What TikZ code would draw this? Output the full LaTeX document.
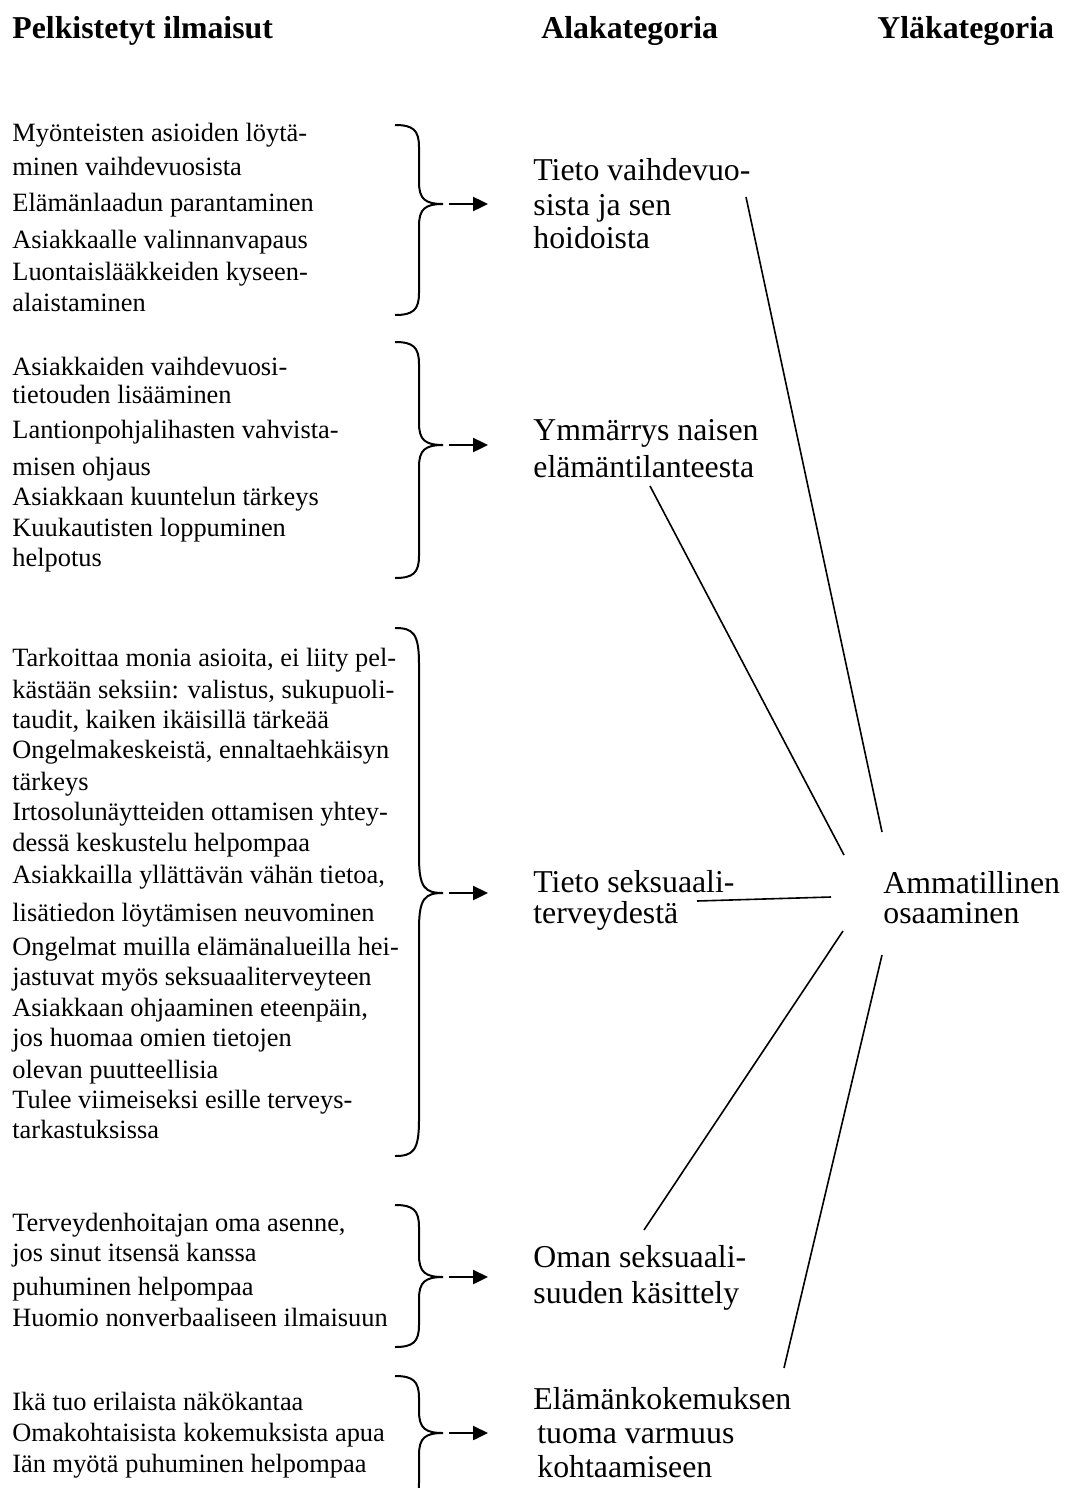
\documentclass[tikz,border=0pt]{standalone}
\usepackage{fontspec}
\setmainfont{Liberation Serif}
\usetikzlibrary{arrows.meta}
\newcommand\mybrace[4]{% top, tip, bottom, hook
  \draw[bracestyle] (395,#1) .. controls (413,#1) and (419,#1+5) .. (419,#1+#4)
    -- (419,#2-#4) .. controls (419,#2-5) and (425,#2) .. (443,#2)
    .. controls (425,#2) and (419,#2+5) .. (419,#2+#4)
    -- (419,#3-#4) .. controls (419,#3-5) and (413,#3) .. (395,#3);}
\begin{document}
\begin{tikzpicture}[x=0.5pt,y=-0.5pt,
  exp/.style={anchor=base west, inner sep=0pt, font=\fontsize{13.2}{15}\selectfont},
  cat/.style={anchor=base west, inner sep=0pt, font=\fontsize{15.9}{18}\selectfont},
  head/.style={anchor=base west, inner sep=0pt, font=\fontsize{15.9}{18}\selectfont\bfseries},
  bracestyle/.style={line width=1pt},
  arr/.style={line width=1.2pt, -{Triangle[length=7.5pt,width=7pt]}},
  conn/.style={line width=0.8pt}]
\useasboundingbox (0,0) rectangle (1066,1488);
\clip (0,0) rectangle (1066,1488);

% headings
\node[head] (h1) at (12,39) {Pelkistetyt ilmaisut};
\node[head] (h2) at (541,39) {Alakategoria};
\node[head] (h3) at (877,39) {Yläkategoria};

% block 1
\node[exp] (e11) at (12,141) {Myönteisten asioiden löytä-};
\node[exp] (e12) at (12,175) {minen vaihdevuosista};
\node[exp] (e13) at (12,211) {Elämänlaadun parantaminen};
\node[exp] (e14) at (12,248) {Asiakkaalle valinnanvapaus};
\node[exp] (e15) at (12,280) {Luontaislääkkeiden kyseen-};
\node[exp] (e16) at (12,311) {alaistaminen};

% block 2
\node[exp] (e21) at (12,375) {Asiakkaiden vaihdevuosi-};
\node[exp] (e22) at (12,403) {tietouden lisääminen};
\node[exp] (e23) at (12,438) {Lantionpohjalihasten vahvista-};
\node[exp] (e24) at (12,475) {misen ohjaus};
\node[exp] (e25) at (12,505) {Asiakkaan kuuntelun tärkeys};
\node[exp] (e26) at (12,536) {Kuukautisten loppuminen};
\node[exp] (e27) at (12,566) {helpotus};

% block 3
\node[exp] (e31) at (12,666) {Tarkoittaa monia asioita, ei liity pel-};
\node[exp] (e32) at (12,698) {kästään seksiin: valistus, sukupuoli-};
\node[exp] (e33) at (12,728) {taudit, kaiken ikäisillä tärkeää};
\node[exp] (e34) at (12,758) {Ongelmakeskeistä, ennaltaehkäisyn};
\node[exp] (e35) at (12,790) {tärkeys};
\node[exp] (e36) at (12,820) {Irtosolunäytteiden ottamisen yhtey-};
\node[exp] (e37) at (12,851) {dessä keskustelu helpompaa};
\node[exp] (e38) at (12,883) {Asiakkailla yllättävän vähän tietoa,};
\node[exp] (e39) at (12,921) {lisätiedon löytämisen neuvominen};
\node[exp] (e310) at (12,955) {Ongelmat muilla elämänalueilla hei-};
\node[exp] (e311) at (12,985) {jastuvat myös seksuaaliterveyteen};
\node[exp] (e312) at (12,1016) {Asiakkaan ohjaaminen eteenpäin,};
\node[exp] (e313) at (12,1046) {jos huomaa omien tietojen};
\node[exp] (e314) at (12,1078) {olevan puutteellisia};
\node[exp] (e315) at (12,1108) {Tulee viimeiseksi esille terveys-};
\node[exp] (e316) at (12,1138) {tarkastuksissa};

% block 4
\node[exp] (e41) at (12,1231) {Terveydenhoitajan oma asenne,};
\node[exp] (e42) at (12,1261) {jos sinut itsensä kanssa};
\node[exp] (e43) at (12,1295) {puhuminen helpompaa};
\node[exp] (e44) at (12,1326) {Huomio nonverbaaliseen ilmaisuun};

% block 5
\node[exp] (e51) at (12,1410) {Ikä tuo erilaista näkökantaa};
\node[exp] (e52) at (12,1441) {Omakohtaisista kokemuksista apua};
\node[exp] (e53) at (12,1472) {Iän myötä puhuminen helpompaa};

% braces
\mybrace{125}{204}{315}{22}
\mybrace{342}{445}{578}{22}
\mybrace{628}{893}{1156}{36}
\mybrace{1205}{1277}{1347}{22}
\mybrace{1376}{1433}{1505}{22}

% subcategories
\node[cat] (c11) at (533,180) {Tieto vaihdevuo-};
\node[cat] (c12) at (533,215) {sista ja sen};
\node[cat] (c13) at (533,248) {hoidoista};
\node[cat] (c21) at (533,440) {Ymmärrys naisen};
\node[cat] (c22) at (533,477) {elämäntilanteesta};
\node[cat] (c31) at (533,892) {Tieto seksuaali-};
\node[cat] (c32) at (533,923) {terveydestä};
\node[cat] (c41) at (533,1267) {Oman seksuaali-};
\node[cat] (c42) at (533,1303) {suuden käsittely};
\node[cat] (c51) at (533,1409) {Elämänkokemuksen};
\node[cat] (c52) at (537,1443) {tuoma varmuus};
\node[cat] (c53) at (537,1477) {kohtaamiseen};

% main category
\node[cat] (m1) at (883,893) {Ammatillinen};
\node[cat] (m2) at (883,923) {osaaminen};

% arrows from brace tips
\coordinate (as1) at (449,204);  \coordinate (ae1) at (488,204);
\coordinate (as2) at (449,445);  \coordinate (ae2) at (488,445);
\coordinate (as3) at (449,893);  \coordinate (ae3) at (488,893);
\coordinate (as4) at (449,1277); \coordinate (ae4) at (488,1277);
\coordinate (as5) at (449,1433); \coordinate (ae5) at (488,1433);
\foreach \i in {1,...,5} \draw[arr] (as\i) -- (ae\i);

% connectors
\coordinate (l1a) at (746,197);  \coordinate (l1b) at (882,832);
\coordinate (l2a) at (650,486);  \coordinate (l2b) at (844,855);
\coordinate (l3a) at (697,901);  \coordinate (l3b) at (831,897);
\coordinate (l4a) at (644,1230); \coordinate (l4b) at (843,931);
\coordinate (l5a) at (784,1368); \coordinate (l5b) at (882,955);
\foreach \i in {1,...,5} \draw[conn] (l\i a) -- (l\i b);
\end{tikzpicture}
\end{document}
